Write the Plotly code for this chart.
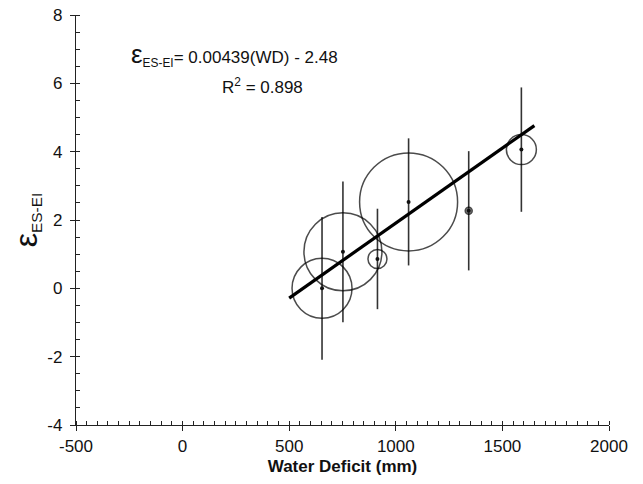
import plotly.graph_objects as go

# values
water_deficit = [654, 752, 914, 1060, 1342, 1589]
eps = [0.0, 1.07, 0.86, 2.53, 2.27, 4.06]
eps_err = [2.09, 2.06, 1.47, 1.86, 1.745, 1.82]
circle_size = [60, 78, 19, 98, 7, 30]

fit_x = [500, 1650]
slope = 0.00439
intercept = -2.48
fit_y = [slope * x + intercept for x in fit_x]

x_ticks = [-500, 0, 500, 1000, 1500, 2000]
y_ticks = [-4, -2, 0, 2, 4, 6, 8]

font = "Liberation Sans, Arial, sans-serif"

fig = go.Figure()

# error bars only
fig.add_trace(go.Scatter(
    x=water_deficit, y=eps, mode="markers",
    marker=dict(size=1, color="rgba(0,0,0,0)"),
    error_y=dict(type="data", array=eps_err, visible=True, width=0, thickness=1.6, color="#333333"),
    showlegend=False, hoverinfo="skip",
))

# open circles
fig.add_trace(go.Scatter(
    x=water_deficit, y=eps, mode="markers",
    marker=dict(size=circle_size, color=["rgba(0,0,0,0)"] * 4 + ["#444444", "rgba(0,0,0,0)"],
                line=dict(color="black", width=1.5)),
    showlegend=False,
))

# centre dots
fig.add_trace(go.Scatter(
    x=water_deficit, y=eps, mode="markers",
    marker=dict(size=4, color="#111111"),
    showlegend=False,
))

# regression line
fig.add_trace(go.Scatter(
    x=fit_x, y=fit_y, mode="lines",
    line=dict(color="black", width=3.2),
    showlegend=False,
))

fig.add_annotation(
    x=-250, y=6.85, xref="x", yref="y", xanchor="left", yanchor="middle", showarrow=False,
    text="<span style='font-size:26px'>ε</span><sub>ES-EI</sub>= 0.00439(WD) - 2.48",
    font=dict(family=font, size=17, color="#111111"),
)
fig.add_annotation(
    x=376, y=5.91, xref="x", yref="y", xanchor="center", yanchor="middle", showarrow=False,
    text="R<sup>2</sup> = 0.898",
    font=dict(family=font, size=17, color="#111111"),
)

axis_common = dict(
    showline=True, linecolor="#222222", linewidth=1.3,
    showgrid=False, zeroline=False, automargin=False,
    ticks="outside", ticklen=5, tickwidth=1.2, tickcolor="#222222",
    tickfont=dict(family=font, size=17, color="#111111"),
    ticklabeloverflow="allow",
)

fig.update_xaxes(
    range=[-500, 2000], tickmode="array", tickvals=x_ticks, ticktext=[str(v) for v in x_ticks],
    minor=dict(tickmode="linear", tick0=-500, dtick=50, ticks="inside", ticklen=4, tickwidth=1, tickcolor="#222222"),
    title=dict(text="<b>Water Deficit (mm)</b>", font=dict(family=font, size=17, color="#111111"), standoff=6),
    ticklabelstandoff=0,
    **axis_common,
)
fig.update_yaxes(
    range=[-4, 8], tickmode="array", tickvals=y_ticks, ticktext=[str(v) for v in y_ticks],
    minor=dict(tickmode="linear", tick0=-4, dtick=0.5, ticks="inside", ticklen=4, tickwidth=1, tickcolor="#222222"),
    title=dict(text="<span style='font-size:32px'>ε</span><sub>ES-EI</sub>",
               font=dict(family=font, size=22, color="#111111"), standoff=19),
    ticklabelstandoff=4,
    **axis_common,
)

# the page body adds an 8px margin, so the figure is sized to fit inside the window
fig.update_layout(
    width=627, height=468,
    margin=dict(l=68, r=26, t=7, b=51),
    paper_bgcolor="white", plot_bgcolor="white",
    font=dict(family=font),
)

fig.write_html("out.html")
